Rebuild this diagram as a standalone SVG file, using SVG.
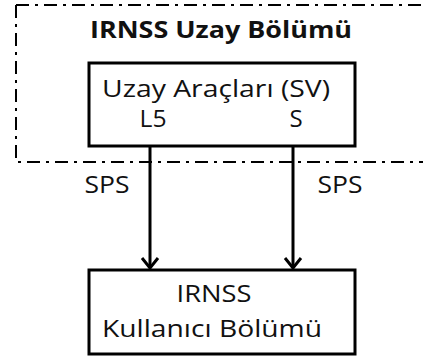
<svg xmlns="http://www.w3.org/2000/svg" width="423" height="356" viewBox="0 0 423 356">
<style>
.t{font-family:"Open Sans","Liberation Sans",sans-serif;fill:#111;font-size:24px}
.b{font-weight:bold}
.box{fill:#fff;stroke:#000;stroke-width:3}
.dash{fill:none;stroke:#000;stroke-width:2;stroke-dasharray:13 6 3 6}
.conn{fill:none;stroke:#000;stroke-width:3}
</style>
<defs>
<marker id="arr" viewBox="0 0 14 20" refX="12" refY="10" markerWidth="14" markerHeight="20" markerUnits="userSpaceOnUse" orient="auto">
<path d="M2 2 L12 10 L2 18" fill="none" stroke="#000" stroke-width="3"/>
</marker>
</defs>
<g id="uzay-bolumu">
<path class="dash" d="M16 5 L430 5 M16 5 L16 162 L430 162"/>
<text class="t b" x="221" y="38" text-anchor="middle" textLength="262" lengthAdjust="spacingAndGlyphs">IRNSS Uzay Bölümü</text>
</g>
<g id="uzay-araclari">
<rect class="box" x="89" y="63" width="266" height="83"/>
<text class="t" x="216" y="97" text-anchor="middle" textLength="228" lengthAdjust="spacingAndGlyphs">Uzay Araçları (SV)</text>
<text class="t" x="153" y="127" text-anchor="middle" textLength="27" lengthAdjust="spacingAndGlyphs">L5</text>
<text class="t" x="296" y="127" text-anchor="middle">S</text>
</g>
<g id="kullanici-bolumu">
<rect class="box" x="89" y="270" width="266" height="84"/>
<text class="t" x="214" y="302" text-anchor="middle" textLength="75" lengthAdjust="spacingAndGlyphs">IRNSS</text>
<text class="t" x="212" y="337" text-anchor="middle" textLength="220" lengthAdjust="spacingAndGlyphs">Kullanıcı Bölümü</text>
</g>
<g id="connectors">
<line class="conn" x1="150" y1="146" x2="150" y2="268" marker-end="url(#arr)"/>
<line class="conn" x1="293" y1="146" x2="293" y2="268" marker-end="url(#arr)"/>
<text class="t" x="107" y="193" text-anchor="middle" textLength="45" lengthAdjust="spacingAndGlyphs">SPS</text>
<text class="t" x="340" y="193" text-anchor="middle" textLength="45" lengthAdjust="spacingAndGlyphs">SPS</text>
</g>
</svg>
